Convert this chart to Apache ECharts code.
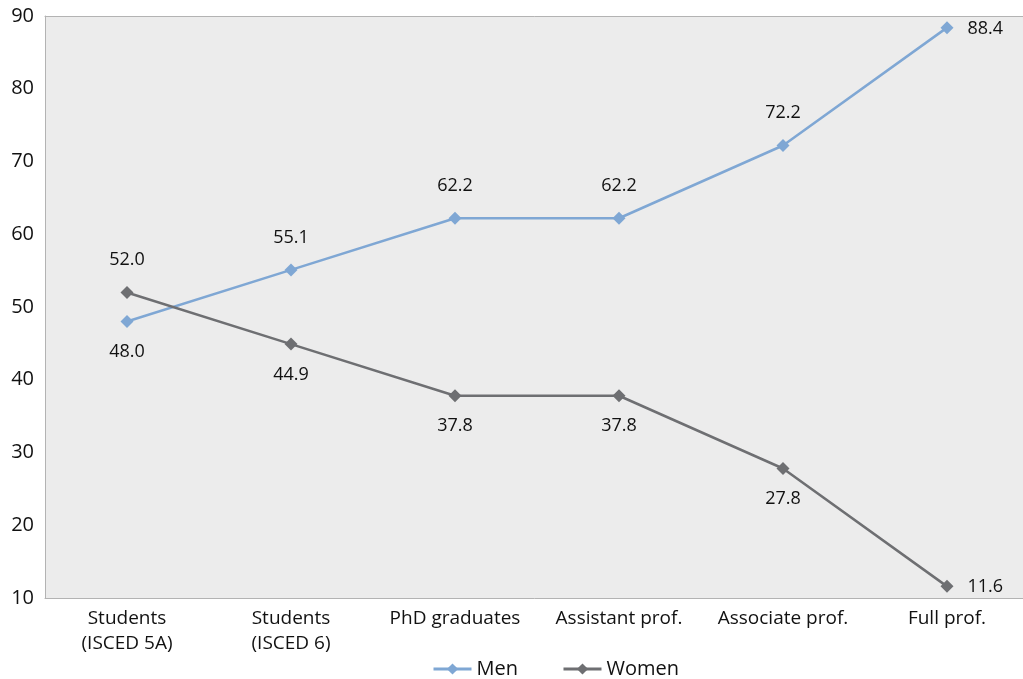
<!DOCTYPE html>
<html>
<head>
<meta charset="utf-8">
<script src="https://cdn.jsdelivr.net/npm/echarts@6/dist/echarts.min.js"></script>
<style>
  html, body { margin: 0; padding: 0; background: #fff; }
  #chart { width: 1023px; height: 679px; }
</style>
</head>
<body>
<div id="chart"></div>
<script>
const categories = ['Students\n(ISCED 5A)', 'Students\n(ISCED 6)', 'PhD graduates', 'Assistant prof.', 'Associate prof.', 'Full prof.'];
const menValues = [48.0, 55.1, 62.2, 62.2, 72.2, 88.4];
const womenValues = [52.0, 44.9, 37.8, 37.8, 27.8, 11.6];
const menLabelPos = ['below', 'above', 'above', 'above', 'above', 'right'];
const womenLabelPos = ['above', 'below', 'below', 'below', 'below', 'right'];

const FONT = '"Open Sans", "Noto Sans", sans-serif';
const MEN_COLOR = '#7fa7d4';
const WOMEN_COLOR = '#6e6f72';
const FRAME = '#b3b3b3';

function labelFor(pos) {
  if (pos === 'right') return { show: true, position: 'right', distance: 14, offset: [0, 1] };
  if (pos === 'above') return { show: true, position: 'top', distance: 17 };
  return { show: true, position: 'bottom', distance: 15 };
}

function build(values, positions) {
  return values.map((v, i) => ({ value: v, label: labelFor(positions[i]) }));
}

const chart = echarts.init(document.getElementById('chart'));
chart.setOption({
  animation: false,
  textStyle: { fontFamily: FONT },
  grid: {
    left: 45, width: 984, top: 16, bottom: 81,
    outerBoundsMode: 'none',
    show: true, backgroundColor: '#ececec', borderWidth: 0
  },
  legend: {
    bottom: -5,
    left: 427,
    itemWidth: 38,
    itemHeight: 14,
    itemGap: 44,
    lineStyle: { width: 3 },
    textStyle: { fontSize: 20, color: '#111', fontFamily: FONT },
    data: ['Men', 'Women']
  },
  xAxis: [
    {
      type: 'category',
      data: categories,
      boundaryGap: true,
      axisLine: { show: true, lineStyle: { color: FRAME } },
      axisTick: { show: false },
      axisLabel: { color: '#111', fontSize: 19, lineHeight: 25, margin: 8, fontFamily: FONT, interval: 0 },
      splitLine: { show: false }
    },
    {
      // top edge of the plot frame
      type: 'category',
      position: 'top',
      data: categories,
      axisLine: { show: true, lineStyle: { color: FRAME } },
      axisTick: { show: false },
      axisLabel: { show: false },
      splitLine: { show: false }
    }
  ],
  yAxis: {
    type: 'value',
    min: 10,
    max: 90,
    interval: 10,
    axisLine: { show: true, lineStyle: { color: FRAME } },
    axisTick: { show: false },
    axisLabel: { color: '#111', fontSize: 20, margin: 11, fontFamily: FONT },
    splitLine: { show: false }
  },
  series: [
    {
      name: 'Men',
      type: 'line',
      data: build(menValues, menLabelPos),
      symbol: 'diamond',
      symbolSize: 13,
      color: MEN_COLOR,
      lineStyle: { color: MEN_COLOR, width: 2.5 },
      itemStyle: { color: MEN_COLOR },
      label: { color: '#111', fontSize: 18, fontFamily: FONT, formatter: p => p.value.toFixed(1) }
    },
    {
      name: 'Women',
      type: 'line',
      data: build(womenValues, womenLabelPos),
      symbol: 'diamond',
      symbolSize: 13,
      color: WOMEN_COLOR,
      lineStyle: { color: WOMEN_COLOR, width: 2.5 },
      itemStyle: { color: WOMEN_COLOR },
      label: { color: '#111', fontSize: 18, fontFamily: FONT, formatter: p => p.value.toFixed(1) }
    }
  ]
});
</script>
</body>
</html>
